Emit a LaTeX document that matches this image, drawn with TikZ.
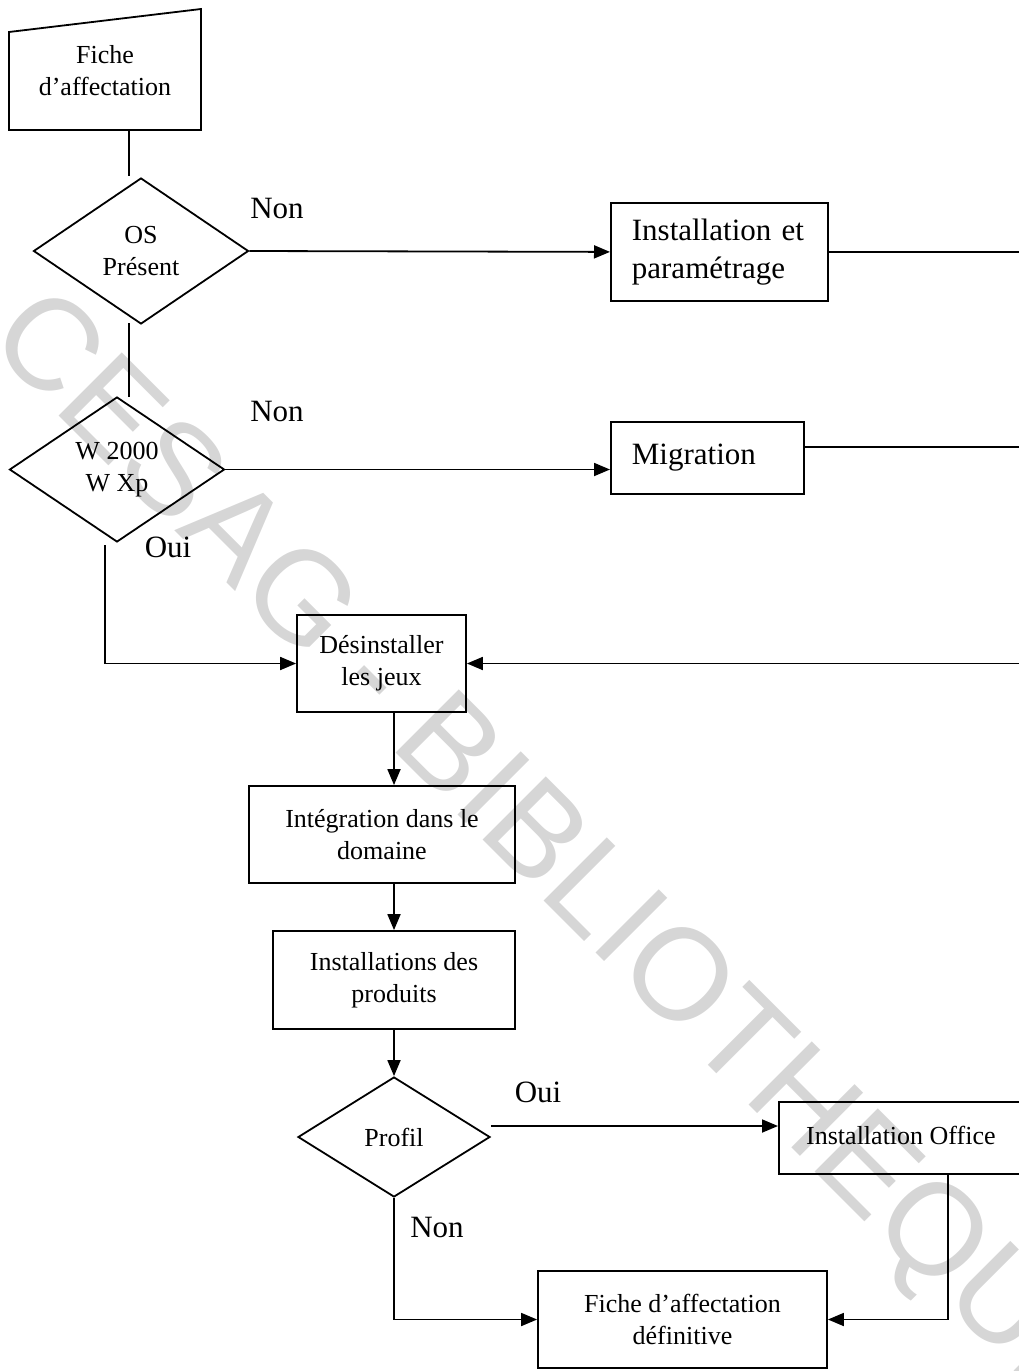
\documentclass[tikz,border=0pt]{standalone}
\usepackage{fontspec}
\setmainfont{Liberation Serif}
\newfontfamily\wmfont{Liberation Sans}
\usetikzlibrary{shapes.geometric,arrows.meta,calc}

\begin{document}
\begin{tikzpicture}[x=1pt, y=-1pt, line width=1.8pt,
  box/.style={draw, rectangle, inner sep=0pt, align=center, font=\fontsize{26}{32}\selectfont},
  bigbox/.style={draw, rectangle, inner xsep=21pt, inner ysep=0pt, align=left, font=\fontsize{31}{38}\selectfont},
  choice/.style={draw, diamond, inner sep=0pt, align=center, font=\fontsize{26}{32}\selectfont},
  lbl/.style={inner sep=0pt, font=\fontsize{31}{38}\selectfont},
  arr/.style={-{Triangle[length=16pt,width=13pt]}},
]
\useasboundingbox (0,0) rectangle (1018,1371);

% library stamp behind the chart
\node[rotate=-45, text=black!16, inner sep=0pt,
      font=\wmfont\fontsize{130}{130}\selectfont] (stamp) at (550,860)
  {CESAG - BIBLIOTHEQUE};

% document symbol (slanted top)
\draw (9,32) -- (201,9) -- (201,130) -- (9,130) -- cycle;
\node[inner sep=0pt, align=center, font=\fontsize{26}{32}\selectfont] (fa) at (105,71) {Fiche\\d’affectation};

% decisions on the operating system
\node[choice, minimum width=215pt, minimum height=146pt] (os) at (141,251) {OS\\Présent};
\node[choice, minimum width=215pt, minimum height=145pt] (w2) at (117,469.5) {W 2000\\W Xp};

\coordinate (faB) at (129,130);
\coordinate (osT) at (129,176);
\coordinate (osB) at (129,323);
\coordinate (w2T) at (129,397);
\draw (faB) -- (osT);
\draw (osB) -- (w2T);

% right-hand branches
\node[bigbox, anchor=north west, minimum height=98pt, text width=175pt] (inst) at (610,202) {Installation et\\paramétrage};
\node[bigbox, anchor=north west, minimum height=72pt, text width=151pt] (mig) at (610,421) {\raisebox{5pt}{Migration}};

\draw[arr] (os.east) -- (inst.west);
\draw[arr] (w2.east) -- (w2.east -| mig.west);

\node[lbl] (n1) at (277,208) {Non};
\node[lbl] (n2) at (277,411) {Non};
\node[lbl] (o1) at (168,547) {Oui};

% main sequence
\node[box, minimum width=169pt, minimum height=97pt] (des) at (381.5,663.5) {Désinstaller\\les jeux};
\node[box, minimum width=266pt, minimum height=97pt] (integ) at (382,834.5) {Intégration dans le\\domaine};
\node[box, minimum width=242pt, minimum height=98pt] (prod) at (394,980) {Installations des\\produits};
\node[choice, minimum width=192pt, minimum height=120pt] (prof) at (394,1137) {Profil};

\coordinate (w2B) at (105,545);
\draw[arr] (w2B) |- (des.west);

% return rail along the right edge
\coordinate (rail) at (1019.5,0);
\draw (inst.east) -- (inst.east -| rail);
\draw ([yshift=11pt]mig.east) -- ([yshift=11pt]mig.east -| rail);
\draw[arr] (inst.east -| rail) -- (des.east -| rail) -- (des.east);

\draw[arr] (des.south -| prod.north) -- (integ.north -| prod.north);
\draw[arr] (integ.south -| prod.north) -- (prod.north);
\draw[arr] (prod.south) -- (prof.north);

% profile decision
\node[box, anchor=north west, minimum width=250pt, minimum height=72pt] (off) at (778,1101) {\hspace*{-6pt}\raisebox{5pt}{Installation Office}};
\node[box, minimum width=289pt, minimum height=97pt] (def) at (682.5,1319.5) {Fiche d’affectation\\définitive};

\draw[arr] ([yshift=11pt]prof.east) -- ([yshift=11pt]prof.east -| off.west);
\draw[arr] (prof.south) |- (def.west);
\draw[arr] ([xshift=44pt]off.south) |- (def.east);

\node[lbl] (o2) at (538,1092) {Oui};
\node[lbl] (n3) at (437,1227) {Non};
\end{tikzpicture}
\end{document}
